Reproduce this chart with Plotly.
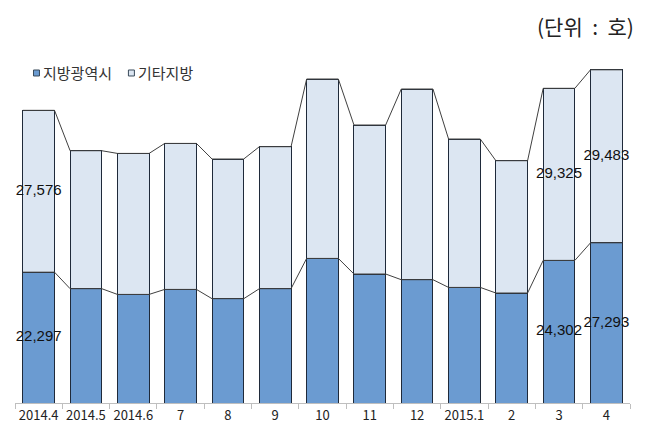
import plotly.graph_objects as go

categories = ["2014.4", "2014.5", "2014.6", "7", "8", "9", "10", "11", "12", "2015.1", "2", "3", "4"]
metro = [22297, 19476, 18505, 19357, 17773, 19476, 24640, 21982, 21010, 19698, 18744, 24302, 27293]
other = [27576, 23514, 24027, 24879, 23805, 24198, 30570, 25389, 32496, 25288, 22544, 29325, 29483]
labeled = [0, 11, 12]
series_names = ["지방광역시", "기타지방"]
series_colors = ["#6b9bd1", "#dce6f2"]
edge = "#1f2a3a"

xs = list(range(len(categories)))
bw = 0.67
totals = [m + o for m, o in zip(metro, other)]

fig = go.Figure()
fig.add_bar(x=xs, y=metro, name=series_names[0], width=bw, showlegend=False,
            marker=dict(color=series_colors[0], line=dict(color=edge, width=1)))
fig.add_bar(x=xs, y=other, name=series_names[1], width=bw, showlegend=False,
            marker=dict(color=series_colors[1], line=dict(color=edge, width=1)))

# series lines
for series in (metro, totals):
    lx, ly = [], []
    for i, v in enumerate(series):
        lx += [i - bw / 2, i + bw / 2]
        ly += [v, v]
    fig.add_scatter(x=lx, y=ly, mode="lines", line=dict(color="#404040", width=1),
                    showlegend=False, hoverinfo="skip")

# data labels
tx, ty, tt = [], [], []
for i in labeled:
    tx += [i, i]
    ty += [metro[i] / 2, metro[i] + other[i] / 2]
    tt += [f"{metro[i]:,}", f"{other[i]:,}"]
fig.add_scatter(x=tx, y=ty, text=tt, mode="text", showlegend=False,
                textfont=dict(family="Liberation Sans, Arial", size=15, color="#111"),
                hoverinfo="skip")

fig.update_layout(
    width=640, height=422,
    barmode="stack",
    plot_bgcolor="white", paper_bgcolor="white",
    margin=dict(l=6.5, r=18, t=52, b=26.7),
    font=dict(family="Noto Sans CJK KR", color="#222"),
    showlegend=False,
)

# manual legend (small squares + text), positioned in pixels above the plot
legend_items = [(25, series_names[0], series_colors[0]), (120, series_names[1], series_colors[1])]
for px, name, col in legend_items:
    fig.add_shape(type="rect", xref="paper", yref="paper",
                  x0=(px - 6.5) / 615.5, x1=(px + 6 - 6.5) / 615.5,
                  y0=1 + (52 - 68) / 343.3, y1=1 + (52 - 62) / 343.3,
                  fillcolor=col, line=dict(color="#3a4a5a", width=1))
    fig.add_annotation(text=name, xref="paper", yref="paper",
                       x=(px + 8 - 6.5) / 615.5, y=1 + (52 - 65) / 343.3,
                       xanchor="left", yanchor="middle", showarrow=False,
                       font=dict(size=15, color="#333", family="Noto Sans CJK KR"))

fig.add_annotation(text="(단위  :  호)", xref="paper", yref="paper", x=1.01,
                   y=1 + 51 / 343.3, xanchor="right", yanchor="top", showarrow=False,
                   font=dict(size=21, color="#222", family="Noto Sans CJK KR"))

fig.update_xaxes(range=[-0.5, len(categories) - 0.5], tickmode="array", tickvals=xs,
                 ticktext=categories, ticks="", showgrid=False, zeroline=False,
                 showline=True, linecolor="#bfbfbf", linewidth=1,
                 tickfont=dict(size=13, color="#222"),
                 minor=dict(tick0=-0.5, dtick=1, ticks="outside", ticklen=5,
                            tickcolor="#bfbfbf", showgrid=False))
fig.update_yaxes(range=[0, 58450], visible=False, showgrid=False)

fig.write_html("out.html")
